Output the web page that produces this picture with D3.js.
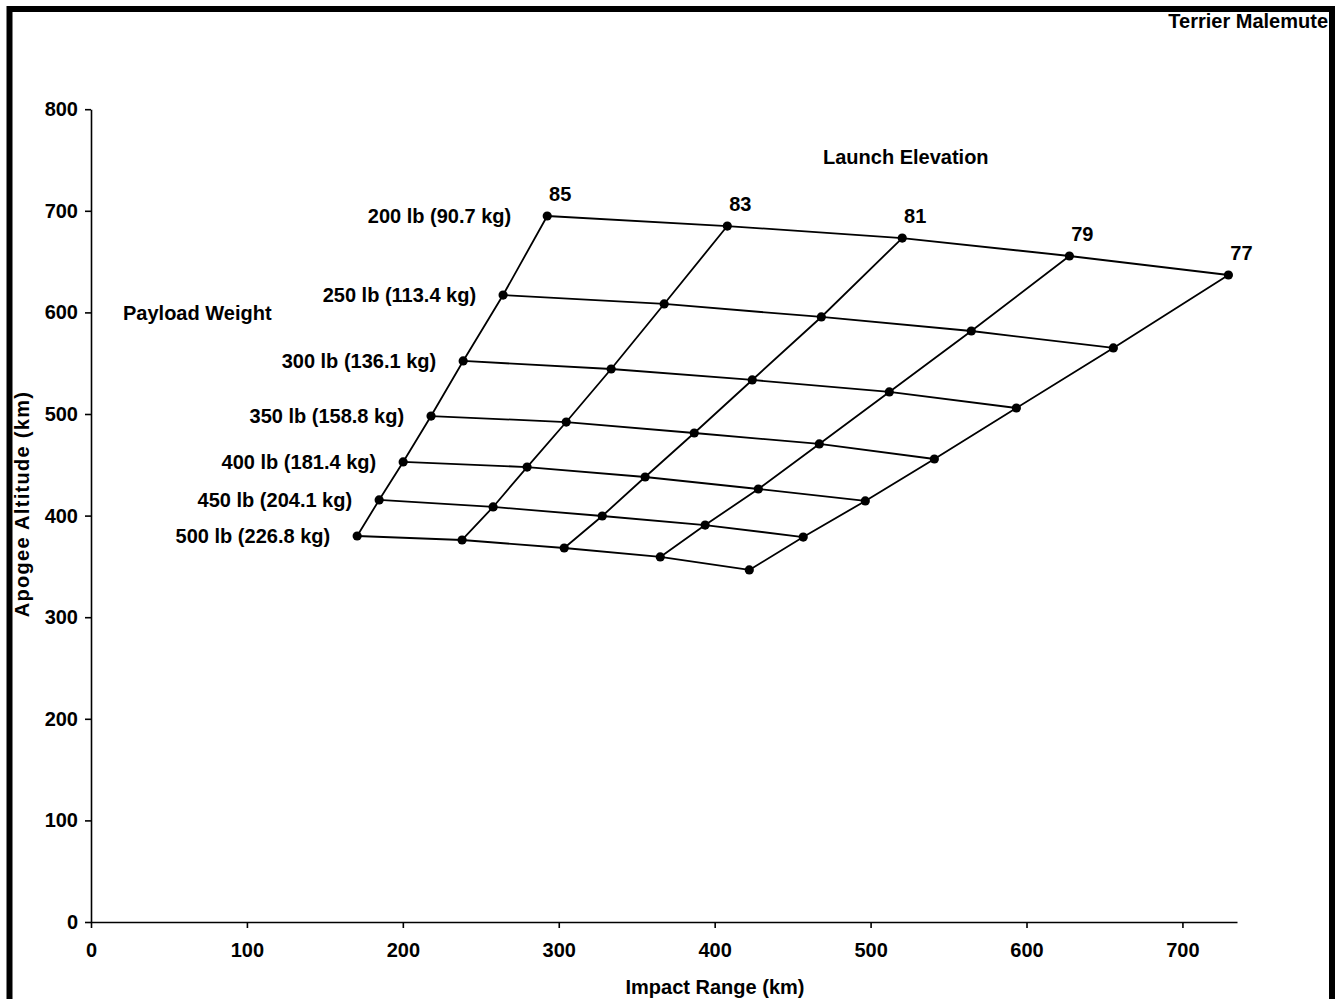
<!DOCTYPE html>
<html>
<head>
<meta charset="utf-8">
<script src="https://cdn.jsdelivr.net/npm/d3@7"></script>
<style>
  body { margin: 0; background: #fff; }
  text { font-family: "Liberation Sans", Arial, sans-serif; font-weight: bold; fill: #000; }
</style>
</head>
<body>
<svg id="chart" width="1341" height="999"></svg>
<script>
// launch elevation (deg) for each column of the grid
const elevations = [85, 83, 81, 79, 77];
const payloads = ["200 lb (90.7 kg)", "250 lb (113.4 kg)", "300 lb (136.1 kg)", "350 lb (158.8 kg)",
                  "400 lb (181.4 kg)", "450 lb (204.1 kg)", "500 lb (226.8 kg)"];

// impact range (km) and apogee (km), one pair per payload, ordered by elevation
const range200 = [292.6, 408.1, 520.3, 627.5, 729.5];
const apogee200 = [694.9, 685.0, 673.2, 655.5, 636.8];
const range250 = [264.3, 367.6, 468.4, 564.6, 655.7];
const apogee250 = [617.1, 608.3, 595.5, 581.7, 565.0];
const range300 = [238.7, 333.6, 424.1, 512.0, 593.5];
const apogee300 = [552.2, 544.3, 533.5, 521.7, 505.9];
const range350 = [218.1, 304.8, 386.9, 467.1, 540.9];
const apogee350 = [498.0, 492.1, 481.3, 470.5, 455.7];
const range400 = [200.2, 279.7, 355.4, 428.0, 496.6];
const apogee400 = [452.8, 447.8, 438.0, 426.2, 414.4];
const range450 = [184.8, 257.9, 327.9, 393.9, 456.8];
const apogee450 = [415.4, 408.5, 399.6, 390.7, 378.9];
const range500 = [170.7, 238.0, 303.5, 365.1, 422.2];
const apogee500 = [379.9, 376.0, 368.1, 359.3, 346.5];

const xTicks = [0, 100, 200, 300, 400, 500, 600, 700];
const yTicks = [0, 100, 200, 300, 400, 500, 600, 700, 800];

const ranges = [range200, range250, range300, range350, range400, range450, range500];
const apogees = [apogee200, apogee250, apogee300, apogee350, apogee400, apogee450, apogee500];

// rows[i][j] = point for payload i, elevation j
const rows = ranges.map((r, i) => r.map((v, j) => ({ x: v, y: apogees[i][j], p: i, e: j })));
const cols = elevations.map((e, j) => rows.map(row => row[j]));

const svg = d3.select("#chart");

const x = d3.scaleLinear().domain([0, 735]).range([91, 1237]);
const y = d3.scaleLinear().domain([0, 800]).range([922, 109.2]);

// outer frame
svg.append("rect")
    .attr("x", 9.5).attr("y", 9)
    .attr("width", 1322.5).attr("height", 1010)
    .attr("fill", "none").attr("stroke", "#000").attr("stroke-width", 6);

svg.append("text")
    .attr("x", 1328).attr("y", 28)
    .attr("text-anchor", "end")
    .style("font-size", "20px")
    .text("Terrier Malemute");

// axes
let xAxis = svg.append("g")
    .attr("transform", "translate(0," + y(0) + ")")
    .call(d3.axisBottom(x).tickValues(xTicks).tickSize(6).tickSizeOuter(0).tickPadding(15));
let yAxis = svg.append("g")
    .attr("transform", "translate(" + x(0) + ",0)")
    .call(d3.axisLeft(y).tickValues(yTicks).tickSize(6).tickSizeOuter(0).tickPadding(7));

[xAxis, yAxis].forEach(a => {
    a.selectAll("path, line").attr("stroke", "#000").attr("stroke-width", 1.6);
    a.selectAll("text").style("font-size", "20px").style("font-family", null);
});

svg.append("text")
    .attr("x", 715).attr("y", 994)
    .attr("text-anchor", "middle")
    .style("font-size", "20px")
    .text("Impact Range (km)");

svg.append("text")
    .attr("transform", "translate(29,504) rotate(-90)")
    .attr("text-anchor", "middle")
    .style("font-size", "20px")
    .style("letter-spacing", "1.3px")
    .text("Apogee Altitude (km)");

// grid lines
const line = d3.line().x(d => x(d.x)).y(d => y(d.y));

svg.append("g").selectAll("path")
    .data(rows.concat(cols))
    .enter()
    .append("path")
    .attr("d", line)
    .attr("fill", "none")
    .attr("stroke", "#000")
    .attr("stroke-width", 1.8);

svg.append("g").selectAll("circle")
    .data(rows.flat())
    .enter()
    .append("circle")
    .attr("cx", d => x(d.x))
    .attr("cy", d => y(d.y))
    .attr("r", 4.6)
    .attr("fill", "#000");

// payload labels to the left of the first column
svg.append("g").selectAll("text")
    .data(cols[0])
    .enter()
    .append("text")
    .attr("x", (d, i) => x(d.x) - (i === 0 ? 36 : 27))
    .attr("y", d => y(d.y) + 7)
    .attr("text-anchor", "end")
    .style("font-size", "20px")
    .text((d, i) => payloads[i]);

// elevation labels above the top row
svg.append("g").selectAll("text")
    .data(rows[0])
    .enter()
    .append("text")
    .attr("x", d => x(d.x) + 13)
    .attr("y", d => y(d.y) - 15)
    .attr("text-anchor", "middle")
    .style("font-size", "20px")
    .text((d, i) => elevations[i]);

svg.append("text")
    .attr("x", 823).attr("y", 164)
    .style("font-size", "20px")
    .text("Launch Elevation");

svg.append("text")
    .attr("x", 123).attr("y", 320)
    .style("font-size", "20px")
    .text("Payload Weight");
</script>
</body>
</html>
